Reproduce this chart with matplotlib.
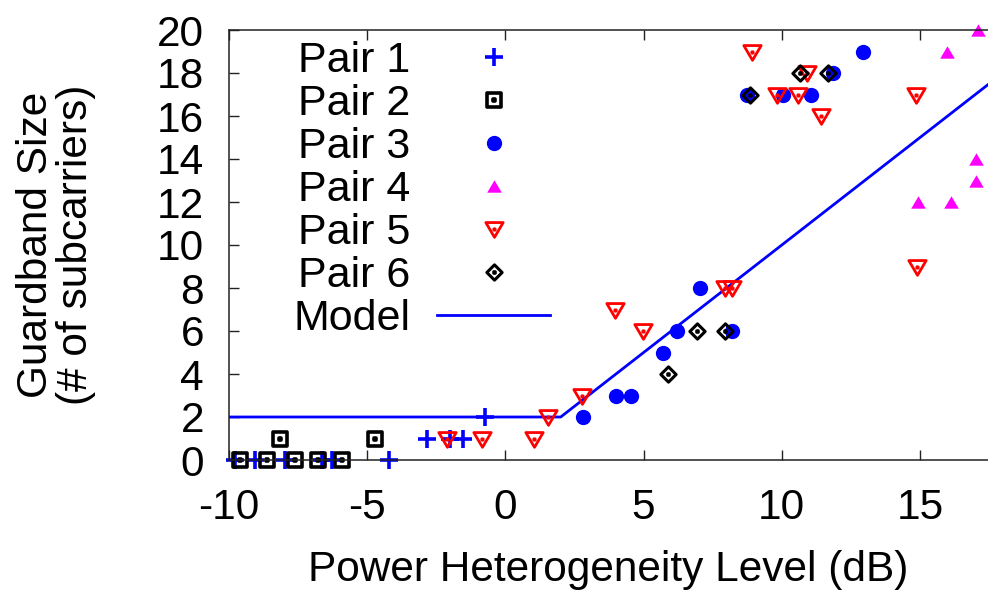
import numpy as np
import matplotlib
matplotlib.use('Agg')
import matplotlib.pyplot as plt
from matplotlib.path import Path

plt.rcParams['font.family'] = 'Liberation Sans'
plt.rcParams['axes.unicode_minus'] = False

#%% data
pair1X = [-9.78, -9.06, -7.97, -6.64, -6.27, -4.21, -2.84, -2.0, -1.55, -0.74]
pair1Y = [0, 0, 0, 0, 0, 0, 1, 1, 1, 2]

pair2X = [-9.6, -8.63, -7.62, -6.77, -5.92, -8.15, -4.72]
pair2Y = [0, 0, 0, 0, 0, 1, 1]

pair3X = [2.80, 4.0, 4.54, 5.71, 6.2, 7.04, 8.19, 12.93, 8.73, 10.04, 11.06, 11.85]
pair3Y = [2, 3, 3, 5, 6, 8, 6, 19, 17, 17, 17, 18]

pair4X = [17.1, 15.97, 17.03, 17.03, 14.94, 16.11]
pair4Y = [20, 19, 14, 13, 12, 12]

pair5X = [8.91, 10.9, 9.82, 10.59, 11.41, 14.86, 14.89, 7.95, 8.19, 3.97, 4.99, 2.76, 1.54, 1.03, -0.85, -2.11]
pair5Y = [19, 18, 17, 17, 16, 17, 9, 8, 8, 7, 6, 3, 2, 1, 1, 1]

pair6X = [6.92, 7.94, 5.89, 8.85, 10.66, 11.68]
pair6Y = [6, 6, 4, 17, 18, 18]

modelX = [-10, 2, 17.5]
modelY = [2, 2, 17.5]

#%% hollow gnuplot-like markers with a dot in the middle
def dottedMarker(outline, dot=0.1):
    verts = list(outline) + [outline[0]]
    codes = [Path.MOVETO] + [Path.LINETO] * (len(outline) - 1) + [Path.CLOSEPOLY]
    verts += [(-dot, -dot), (dot, -dot), (dot, dot), (-dot, dot), (-dot, -dot)]
    codes += [Path.MOVETO, Path.LINETO, Path.LINETO, Path.LINETO, Path.CLOSEPOLY]
    return Path(verts, codes)

squareDot = dottedMarker([(-1, -1), (1, -1), (1, 1), (-1, 1)])
triDownDot = dottedMarker([(-1, 0.8), (1, 0.8), (0, -0.9)], dot=0.08)
diamondDot = dottedMarker([(0, 1), (1, 0), (0, -1), (-1, 0)])
triUp = Path([(0, 0.85), (1, -0.85), (-1, -0.85), (0, 0.85)],
             [Path.MOVETO, Path.LINETO, Path.LINETO, Path.CLOSEPOLY])

#%%
fig = plt.figure(figsize=(9.88, 5.9), dpi=100)
axs = fig.add_axes([229/988, 130/590, (988-229)/988, 430/590])

modelLine, = axs.plot(modelX, modelY, color='#0000ff', linewidth=2, label='Model')

p1, = axs.plot(pair1X, pair1Y, linestyle='none', marker='+', markersize=12.5, markeredgewidth=2.6,
               color='#0000ff', clip_on=False, label='Pair 1')
p2, = axs.plot(pair2X, pair2Y, linestyle='none', marker=squareDot, markersize=10.5, markeredgewidth=2.6,
               markerfacecolor='none', markeredgecolor='black', clip_on=False, label='Pair 2')
p3, = axs.plot(pair3X, pair3Y, linestyle='none', marker='o', markersize=11, markeredgewidth=0,
               color='#0000ff', clip_on=False, label='Pair 3')
p4, = axs.plot(pair4X, pair4Y, linestyle='none', marker=triUp, markersize=10.5, markeredgewidth=0,
               color='#ff00ff', clip_on=False, label='Pair 4')
p5, = axs.plot(pair5X, pair5Y, linestyle='none', marker=triDownDot, markersize=12.5, markeredgewidth=2,
               markerfacecolor='none', markeredgecolor='#ff0000', clip_on=False, label='Pair 5')
p6, = axs.plot(pair6X, pair6Y, linestyle='none', marker=diamondDot, markersize=11, markeredgewidth=2.2,
               markerfacecolor='none', markeredgecolor='black', clip_on=False, label='Pair 6')

axs.set_xlim(-10, 17.46)
axs.set_ylim(0, 20)
axs.set_xticks([-10, -5, 0, 5, 10, 15])
axs.set_yticks(np.arange(0, 21, 2))

axs.spines['right'].set_visible(False)
for side in ['left', 'top', 'bottom']:
    axs.spines[side].set_linewidth(1.1)
    axs.spines[side].set_color('#222222')

axs.tick_params(axis='both', direction='in', length=7, width=1, labelsize=30.5, color='#222222')
axs.tick_params(axis='x', top=True, pad=20)
axs.tick_params(axis='y', right=False, pad=18)

axs.set_xlabel('Power Heterogeneity Level (dB)', fontsize=30.5)
axs.xaxis.set_label_coords(0.5, -0.21)
axs.set_ylabel('Guardband Size\n(# of subcarriers)', fontsize=30.5, linespacing=1.0)
axs.yaxis.set_label_coords(-0.175, 0.5)

axs.legend(handles=[p1, p2, p3, p4, p5, p6, modelLine], loc='upper right',
           bbox_to_anchor=(550/988, 1 - 41/590), bbox_transform=fig.transFigure,
           frameon=False, markerfirst=False, numpoints=1, fontsize=31,
           handlelength=2.62, handletextpad=0.63, labelspacing=0.07,
           borderpad=0, borderaxespad=0)

fig.savefig('out.png', dpi=100)
